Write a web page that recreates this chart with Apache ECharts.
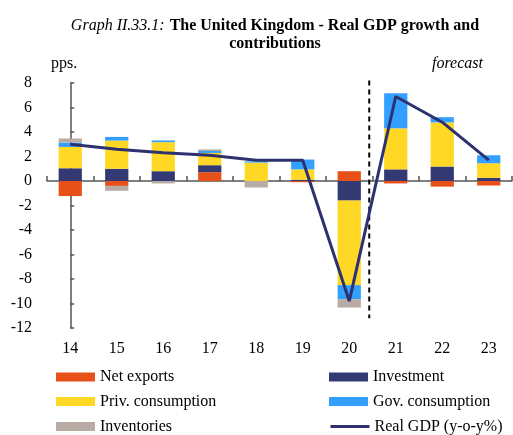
<!DOCTYPE html>
<html>
<head>
<meta charset="utf-8">
<script src="https://cdn.jsdelivr.net/npm/echarts@6/dist/echarts.min.js"></script>
<style>
html,body{margin:0;padding:0;background:#fff;}
#c{width:513px;height:435px;}
</style>
</head>
<body>
<div id="c"></div>
<script>
const years = ['14','15','16','17','18','19','20','21','22','23'];
const netExports   = [-1.23, -0.4, 0,    0.72, 0,    -0.1, 0.8,  -0.2, -0.46, -0.37];
const investment   = [1.04,  1.0,  0.8,  0.57, 0,    0.1,  -1.6, 0.95, 1.18,  0.25];
const privCons     = [1.74,  2.3,  2.37, 1.0,  1.5,  0.85, -6.9, 3.35, 3.6,   1.2];
const govCons      = [0.36,  0.3,  0.14, 0.16, 0.1,  0.8,  -1.15, 2.86, 0.43, 0.65];
const inventories  = [0.33,  -0.4, -0.2, 0.13, -0.53, 0,   -0.68, 0,    0,     0];
const realGDP      = [3.0,   2.6,  2.3,  2.1,  1.7,  1.7,  -9.8, 6.9,  4.8,   1.7];
const yTicks = {min: -12, max: 8, interval: 2};
const forecastSplit = 6.43;       // between 20 and 21 (category index scale)
const forecastLineSpan = [8.2, -11.2];

const serif = 'Liberation Serif, Times New Roman, serif';
const colors = {
  nx: '#E8501A', inv: '#333A73', priv: '#FFD826', gov: '#33A0FF', invt: '#B8ABA3', gdp: '#2D3170'
};

function barSeries(name, data, color) {
  return {name, type: 'bar', stack: 'total', data, barWidth: '50%',
    itemStyle: {color}, xAxisIndex: 0, yAxisIndex: 0, animation: false};
}

const legendLayout = [
  ['Net exports', 56, 369, 'rect'],
  ['Priv. consumption', 56, 393.5, 'rect'],
  ['Inventories', 56, 418.5, 'rect'],
  ['Investment', 329, 369, 'rect'],
  ['Gov. consumption', 329, 393.5, 'rect'],
  ['Real GDP (y-o-y%)', 329, 418.5, null]
];
const legends = legendLayout.map(([name, left, top, icon]) => {
  const lg = {
    orient: 'horizontal', left, top, padding: 0, itemWidth: 39, itemHeight: 9,
    data: [icon ? {name, icon} : {name}],
    textStyle: {fontFamily: serif, fontSize: 16, color: '#000', lineHeight: 16}
  };
  if (!icon) {
    lg.itemStyle = {opacity: 0, color: 'rgba(0,0,0,0)', borderWidth: 0};
    lg.lineStyle = {width: 3, color: colors.gdp, opacity: 1};
  }
  return lg;
});

const chart = echarts.init(document.getElementById('c'), null, {renderer: 'canvas'});
chart.setOption({
  animation: false,
  title: {
    left: 270, top: 12, textAlign: 'center',
    text: '{i|Graph II.33.1:} {b|The United Kingdom - Real GDP growth and}\n{b|contributions}',
    textStyle: {
      rich: {
        i: {fontFamily: serif, fontStyle: 'italic', fontWeight: 'normal', fontSize: 16, color: '#000', lineHeight: 17},
        b: {fontFamily: serif, fontWeight: 'bold', fontSize: 16, color: '#000', lineHeight: 17}
      }
    }
  },
  graphic: [
    {type: 'text', left: 51, top: 56, style: {text: 'pps.', font: '16px ' + serif, fill: '#000'}},
    {type: 'text', left: 432, top: 56, style: {text: 'forecast', font: 'italic 16px ' + serif, fill: '#000'}}
  ],
  grid: {left: 47, right: 1, top: 83, bottom: 107, containLabel: false},
  legend: legends,
  xAxis: [
    {type: 'category', data: years, position: 'bottom',
     axisLine: {onZero: true, lineStyle: {color: '#555', width: 1.5}},
     axisTick: {show: true, inside: true, length: 5, lineStyle: {color: '#555', width: 1.5}},
     axisLabel: {show: false}, splitLine: {show: false}},
    {type: 'category', data: years, position: 'bottom',
     axisLine: {show: false, onZero: false}, axisTick: {show: false},
     axisLabel: {margin: 13, fontFamily: serif, fontSize: 16, color: '#000'}, splitLine: {show: false}},
    {type: 'value', min: -0.5, max: 9.5, show: false, position: 'top'}
  ],
  yAxis: {
    type: 'value', min: yTicks.min, max: yTicks.max, interval: yTicks.interval,
    axisLine: {show: true, lineStyle: {color: '#555', width: 1.5}},
    axisTick: {show: true, inside: true, length: 4, lineStyle: {color: '#555', width: 1.5}},
    axisLabel: {margin: 15, fontFamily: serif, fontSize: 16, color: '#000'},
    splitLine: {show: false}
  },
  series: [
    barSeries('Net exports', netExports, colors.nx),
    barSeries('Investment', investment, colors.inv),
    barSeries('Priv. consumption', privCons, colors.priv),
    barSeries('Gov. consumption', govCons, colors.gov),
    barSeries('Inventories', inventories, colors.invt),
    {name: 'Real GDP (y-o-y%)', type: 'line', data: realGDP, xAxisIndex: 0, yAxisIndex: 0,
     symbol: 'none', lineStyle: {color: colors.gdp, width: 3}, itemStyle: {color: colors.gdp}, z: 5},
    {name: 'forecast-split', type: 'line', xAxisIndex: 2, yAxisIndex: 0, clip: false,
     data: [[forecastSplit, forecastLineSpan[0]], [forecastSplit, forecastLineSpan[1]]],
     symbol: 'none', silent: true, lineStyle: {color: '#000', width: 2, type: [5, 4]}, z: 4}
  ]
});
</script>
</body>
</html>
